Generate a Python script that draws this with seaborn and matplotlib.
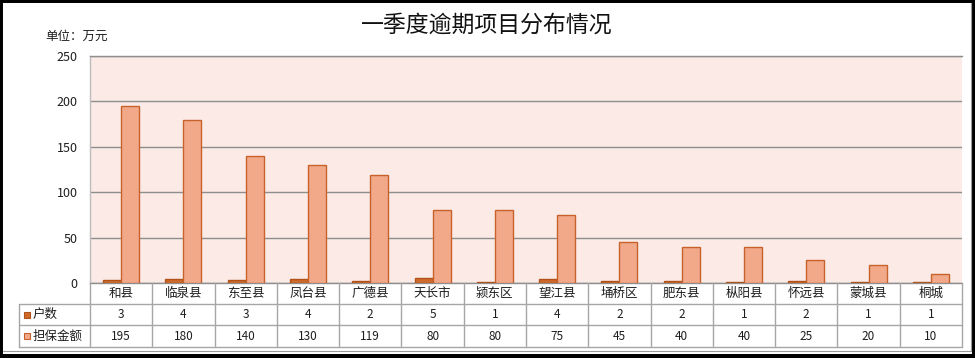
import matplotlib
matplotlib.use('Agg')
import matplotlib.pyplot as plt
import seaborn as sns
import pandas as pd
from matplotlib.patches import Rectangle
from matplotlib.lines import Line2D
from matplotlib.transforms import blended_transform_factory

# ---------------- data ----------------
categories = ['和县', '临泉县', '东至县', '凤台县', '广德县', '天长市', '颍东区',
              '望江县', '埇桥区', '肥东县', '枞阳县', '怀远县', '蒙城县', '桐城']
households = [3, 4, 3, 4, 2, 5, 1, 4, 2, 2, 1, 2, 1, 1]
guarantee = [195, 180, 140, 130, 119, 80, 80, 75, 45, 40, 40, 25, 20, 10]
series_names = ['户数', '担保金额']
yticks = [0, 50, 100, 150, 200, 250]
title_text = '一季度逾期项目分布情况'
unit_text = '单位：万元'

# ---------------- style ----------------
sns.set_theme(style='white')
plt.rcParams['font.family'] = ['Noto Sans CJK SC', 'DejaVu Sans']

dark_fill = '#CF6A2C'
dark_edge = '#B0521A'
light_fill = '#F2A98A'
light_edge = '#C8622A'
bg = '#FBEAE6'
grid_c = '#8E8E8E'
table_c = '#A6A6A6'
text_c = '#1E1E1E'

W, H = 975, 358
def fx(px):
    return px / W
def fy(py):
    return 1 - py / H

df = pd.DataFrame({
    'category': categories * 2,
    'series': [series_names[0]] * len(categories) + [series_names[1]] * len(categories),
    'value': households + guarantee,
})

fig = plt.figure(figsize=(W / 100, H / 100), dpi=100)
fig.patch.set_facecolor('white')
ax = fig.add_axes([fx(90), fy(283), (962 - 90) / W, (283 - 56) / H])

sns.barplot(data=df, x='category', y='value', hue='series', order=categories,
            hue_order=series_names,
            palette={series_names[0]: dark_fill, series_names[1]: light_fill},
            saturation=1, width=0.58, gap=0, linewidth=1, ax=ax, legend=False,
            zorder=3)
for bar in ax.containers[0]:
    bar.set_edgecolor(dark_edge)
for bar in ax.containers[1]:
    bar.set_edgecolor(light_edge)

ax.set_facecolor(bg)
ax.set_ylim(0, 250)
ax.set_xlim(-0.5, len(categories) - 0.5)
ax.set_yticks(yticks)
ax.yaxis.grid(True, color=grid_c, lw=1)
ax.xaxis.grid(False)
ax.set_axisbelow(True)
ax.set_xticks([])
ax.set_xlabel('')
ax.set_ylabel('')
ax.spines['right'].set_visible(False)
ax.spines['top'].set_color(grid_c)
ax.spines['bottom'].set_color(grid_c)
ax.spines['left'].set_color('#BDBDBD')
for s in ax.spines.values():
    s.set_linewidth(1)
ax.tick_params(axis='y', length=0, pad=9, labelsize=9, labelcolor=text_c)

# ---------------- title / unit ----------------
fig.text(fx(487), fy(25), title_text, ha='center', va='center', fontsize=16.5,
         color='#111111')
fig.text(fx(45), fy(36), unit_text, ha='left', va='center', fontsize=9,
         color=text_c)

# ---------------- data table ----------------
tr = blended_transform_factory(ax.transData, fig.transFigure)
n = len(categories)
row_top, row1, row2, row3 = 283, 304, 325, 347
for i in range(n + 1):
    fig.add_artist(Line2D([i - 0.5, i - 0.5], [fy(row_top), fy(row3)],
                          transform=tr, color=table_c, lw=1))
fig.add_artist(Line2D([fx(19), fx(19)], [fy(row1), fy(row3)],
                      transform=fig.transFigure, color=table_c, lw=1))
for yy in (row1, row2, row3):
    fig.add_artist(Line2D([fx(19), fx(962)], [fy(yy), fy(yy)],
                          transform=fig.transFigure, color=table_c, lw=1))

for i, (c, h, g) in enumerate(zip(categories, households, guarantee)):
    fig.text(i, fy((row_top + row1) / 2), c, transform=tr, ha='center',
             va='center', fontsize=9, color=text_c)
    fig.text(i, fy((row1 + row2) / 2), str(h), transform=tr, ha='center',
             va='center', fontsize=8.5, color=text_c)
    fig.text(i, fy((row2 + row3) / 2), str(g), transform=tr, ha='center',
             va='center', fontsize=8.5, color=text_c)

# legend keys in table header
fig.add_artist(Rectangle((fx(24), fy(318)), 6 / W, 6 / H, transform=fig.transFigure,
                         facecolor=dark_fill, edgecolor=dark_edge, lw=0.8))
fig.add_artist(Rectangle((fx(24), fy(339)), 6 / W, 6 / H, transform=fig.transFigure,
                         facecolor=light_fill, edgecolor=light_edge, lw=0.8))
fig.text(fx(33), fy((row1 + row2) / 2), series_names[0], ha='left', va='center',
         fontsize=9, color=text_c)
fig.text(fx(33), fy((row2 + row3) / 2), series_names[1], ha='left', va='center',
         fontsize=9, color=text_c)

# ---------------- outer frame ----------------
fig.add_artist(Line2D([fx(3), fx(971)], [fy(351), fy(351)], transform=fig.transFigure,
                      color='#9A9A9A', lw=0.8))
fig.add_artist(Line2D([fx(971), fx(971)], [fy(3), fy(351)], transform=fig.transFigure,
                      color='#9A9A9A', lw=0.8))
fig.add_artist(Rectangle((0, 0), 1, 1, transform=fig.transFigure, fill=False,
                         edgecolor='black', lw=4.3))
fig.add_artist(Rectangle((0, 0), 1, 4 / H, transform=fig.transFigure,
                         facecolor='black', edgecolor='none'))

fig.savefig('out.png', dpi=100, facecolor='white')
